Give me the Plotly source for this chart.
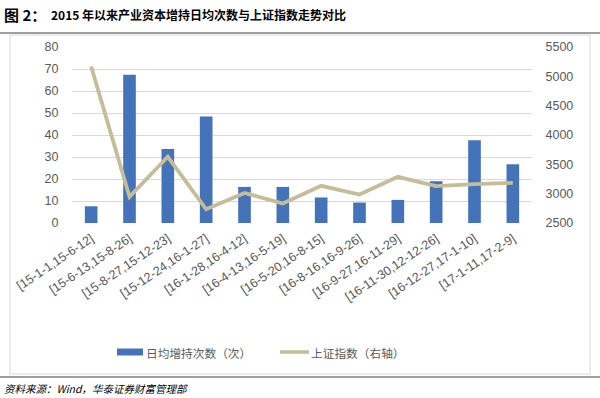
import plotly.graph_objects as go

categories = ["[15-1-1,15-6-12]", "[15-6-13,15-8-26]", "[15-8-27,15-12-23]",
              "[15-12-24,16-1-27]", "[16-1-28,16-4-12]", "[16-4-13,16-5-19]",
              "[16-5-20,16-8-15]", "[16-8-16,16-9-26]", "[16-9-27,16-11-29]",
              "[16-11-30,12-12-26]", "[16-12-27,17-1-10]", "[17-1-11,17-2-9]"]
daily_increase = [7.6, 67.4, 33.6, 48.4, 16.4, 16.4, 11.6, 9.3, 10.5, 19.0, 37.6, 26.7]
sh_index = [5168, 2945, 3629, 2734, 3013, 2832, 3133, 2986, 3287, 3128, 3162, 3184]

left_ticks = list(range(0, 81, 10))
right_ticks = list(range(2500, 5501, 500))

W, H = 600, 398
L, R, T, B = 72, 532, 47, 223


def px(x):
    return (x - L) / (R - L)


def py(y):
    return (B - y) / (B - T)


FONT = "Liberation Sans, Noto Sans CJK SC, sans-serif"
CJK = "Noto Sans CJK SC, sans-serif"
GRAY = "#595959"
BLUE = "#4473B9"
TAN = "#C4BD97"

fig = go.Figure()
fig.add_trace(go.Bar(x=categories, y=daily_increase, name="日均增持次数（次）",
                     marker=dict(color=BLUE, line=dict(width=0)), yaxis="y"))
fig.add_trace(go.Scatter(x=categories, y=sh_index, name="上证指数（右轴）", mode="lines",
                         line=dict(color=TAN, width=3.8), yaxis="y2"))

fig.update_layout(
    width=W, height=H,
    margin=dict(l=L, r=W - R, t=T, b=H - B, autoexpand=False),
    paper_bgcolor="white", plot_bgcolor="white",
    bargap=0.67,
    showlegend=False,
    xaxis=dict(type="category", range=[-0.5, len(categories) - 0.5], autorange=False,
               showgrid=False, zeroline=False, showline=False, ticks="", automargin=False,
               ticklabelstandoff=5,
               tickfont=dict(family=FONT, size=12.5, color=GRAY)),
    yaxis=dict(range=[0, 80], tickvals=left_ticks, showgrid=True, gridcolor="#D9D9D9",
               gridwidth=1, zeroline=False, showline=False, automargin=False,
               ticks="outside", ticklen=10, tickcolor="rgba(0,0,0,0)",
               tickfont=dict(family=FONT, size=12.5, color=GRAY)),
    yaxis2=dict(range=[2500, 5500], tickvals=right_ticks, overlaying="y", side="right",
                showgrid=False, zeroline=False, showline=False, automargin=False,
                ticks="outside", ticklen=10, tickcolor="rgba(0,0,0,0)",
                tickfont=dict(family=FONT, size=12.5, color=GRAY)),
)
fig.update_xaxes(tickangle=-34)

shapes = [
    dict(type="rect", xref="paper", yref="paper", x0=px(10), x1=px(590), y0=py(374), y1=py(35),
         line=dict(color="#D9D9D9", width=1), fillcolor="rgba(0,0,0,0)", layer="below"),
    dict(type="line", xref="paper", yref="paper", x0=px(0), x1=px(600), y0=py(33), y1=py(33),
         line=dict(color="#7F7F7F", width=1.5)),
    dict(type="line", xref="paper", yref="paper", x0=px(0), x1=px(600), y0=py(377), y1=py(377),
         line=dict(color="#7F7F7F", width=1.5)),
    dict(type="rect", xref="paper", yref="paper", x0=px(117), x1=px(143), y0=py(355.5), y1=py(348.5),
         line=dict(width=0), fillcolor=BLUE),
    dict(type="line", xref="paper", yref="paper", x0=px(280), x1=px(309), y0=py(352), y1=py(352),
         line=dict(color=TAN, width=3.5)),
]
fig.update_layout(shapes=shapes)

fig.add_annotation(text="日均增持次数（次）", xref="paper", yref="paper", x=px(144), y=py(352),
                   xanchor="left", yanchor="middle", showarrow=False,
                   font=dict(family=CJK, size=11.7, color=GRAY))
fig.add_annotation(text="上证指数（右轴）", xref="paper", yref="paper", x=px(309), y=py(352),
                   xanchor="left", yanchor="middle", showarrow=False,
                   font=dict(family=CJK, size=11.7, color=GRAY))

fig.add_annotation(text="<b>图 2：</b>", xref="paper", yref="paper", x=px(2), y=py(15),
                   xanchor="left", yanchor="middle", showarrow=False,
                   font=dict(family=CJK, size=15, color="#000000"))
fig.add_annotation(text="<b>2015 年以来产业资本增持日均次数与上证指数走势对比</b>",
                   xref="paper", yref="paper", x=px(49), y=py(15),
                   xanchor="left", yanchor="middle", showarrow=False,
                   font=dict(family=CJK, size=12, color="#000000"))
fig.add_annotation(text="<i>资料来源：Wind，华泰证券财富管理部</i>",
                   xref="paper", yref="paper", x=px(2), y=py(388),
                   xanchor="left", yanchor="middle", showarrow=False,
                   font=dict(family=CJK, size=10.5, color="#000000"))

fig.write_html("out.html", config={"displayModeBar": False},
               post_script="document.body.style.margin='0';document.body.style.padding='0';")
